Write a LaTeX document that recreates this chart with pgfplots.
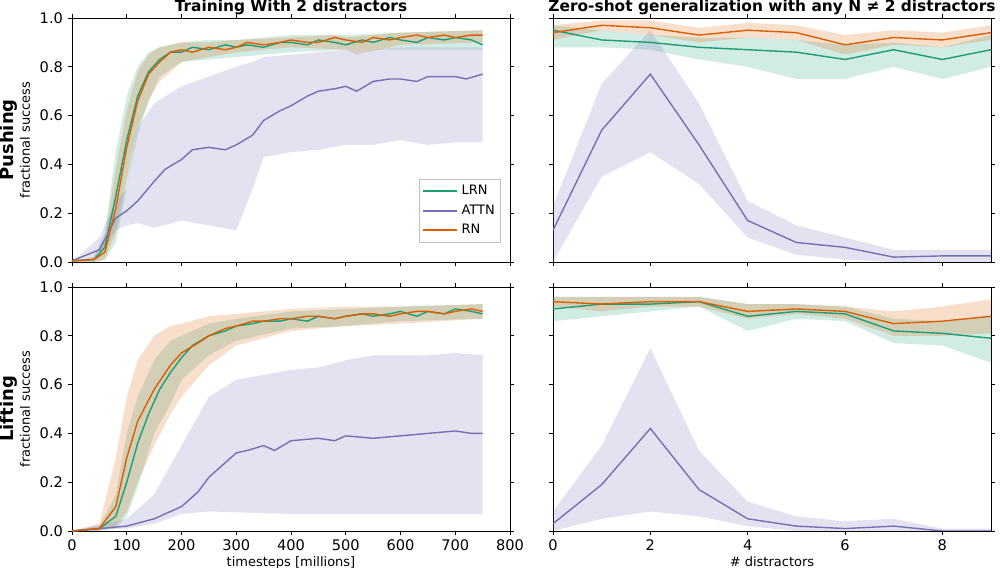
\documentclass[border=0pt]{standalone}
\usepackage{pgfplots}
\pgfplotsset{compat=1.18}
\usepgfplotslibrary{groupplots}
\usepackage{fontspec}
\setmainfont{DejaVu Sans}
\definecolor{cg}{HTML}{1B9E77}
\definecolor{cp}{HTML}{7570B3}
\definecolor{co}{HTML}{D95F02}
\begin{document}
\fontsize{7}{8.4}\selectfont
\begin{tikzpicture}
\useasboundingbox (-36pt,-152.5pt) rectangle (464pt,131pt);
\begin{groupplot}[group style={group size=2 by 2, horizontal sep=21.5pt, vertical sep=12.5pt},
 width=219pt, height=122pt, scale only axis, ymin=0, ymax=1,
 ytick={0,0.2,0.4,0.6,0.8,1.0}, yticklabel style={/pgf/number format/fixed,/pgf/number format/precision=1,/pgf/number format/fixed zerofill},
 /pgf/number format/assume math mode=true,
 tick align=outside, tick style={black,thin}, major tick length=2pt,
 ticklabel style={font=\fontsize{7.3}{8}\selectfont},
 every axis plot/.append style={line width=0.7pt},
 label style={font=\fontsize{6.5}{8}\selectfont}, title style={font=\fontsize{7.7}{9}\selectfont\bfseries, yshift=-7pt}]
% ---- top left
\nextgroupplot[xmin=0,xmax=800, xticklabels={}, title={Training With 2 distractors},
 ylabel={\parbox{60pt}{\centering{\fontsize{9}{10}\selectfont\bfseries Pushing}\\fractional success}},
 legend style={at={(0.98,0.08)},anchor=south east,font=\fontsize{6.5}{8}\selectfont,cells={anchor=west},inner sep=1pt,draw=black!25}, legend cell align=left]
\addplot[fill=cg,fill opacity=0.2,draw=none,forget plot] coordinates {(0,0)(40,0.02)(60,0.12)(80,0.45)(100,0.68)(120,0.80)(140,0.86)(160,0.88)(200,0.90)(250,0.91)(300,0.91)(400,0.93)(500,0.93)(600,0.94)(750,0.95)(750,0.87)(600,0.87)(500,0.87)(400,0.86)(300,0.84)(250,0.83)(200,0.82)(160,0.76)(140,0.66)(120,0.52)(100,0.30)(80,0.08)(60,0.01)(40,0)} -- cycle;
\addplot[fill=co,fill opacity=0.2,draw=none,forget plot] coordinates {(0,0)(40,0.02)(60,0.10)(80,0.38)(100,0.62)(120,0.78)(140,0.85)(160,0.88)(200,0.90)(250,0.90)(300,0.91)(400,0.92)(480,0.93)(500,0.92)(600,0.94)(750,0.95)(750,0.90)(600,0.89)(520,0.85)(500,0.87)(400,0.88)(300,0.86)(250,0.84)(200,0.82)(160,0.74)(140,0.66)(120,0.55)(100,0.34)(80,0.12)(60,0.01)(40,0)} -- cycle;
\addplot[fill=cp,fill opacity=0.2,draw=none,forget plot] coordinates {(0,0)(50,0.10)(80,0.25)(100,0.30)(120,0.55)(150,0.65)(200,0.72)(250,0.76)(300,0.80)(330,0.82)(350,0.84)(400,0.85)(450,0.86)(500,0.87)(550,0.87)(600,0.88)(650,0.88)(700,0.88)(750,0.88)(750,0.49)(700,0.49)(650,0.48)(600,0.50)(550,0.48)(500,0.48)(450,0.46)(400,0.45)(350,0.43)(330,0.30)(300,0.13)(250,0.15)(200,0.17)(150,0.14)(120,0.16)(100,0.15)(80,0.13)(50,0.02)} -- cycle;
\addplot[cg,forget plot] coordinates {(0,0.005)(40,0.01)(60,0.06)(80,0.27)(100,0.50)(120,0.68)(140,0.78)(160,0.83)(180,0.86)(200,0.86)(220,0.88)(250,0.87)(280,0.89)(300,0.88)(320,0.89)(350,0.88)(380,0.90)(400,0.90)(430,0.89)(450,0.91)(480,0.90)(500,0.89)(530,0.91)(550,0.90)(580,0.92)(600,0.91)(630,0.90)(650,0.92)(680,0.91)(700,0.92)(730,0.91)(750,0.89)};
\addplot[cp,forget plot] coordinates {(0,0.005)(50,0.05)(80,0.18)(100,0.21)(120,0.25)(150,0.33)(170,0.38)(200,0.42)(220,0.46)(250,0.47)(280,0.46)(300,0.48)(330,0.52)(350,0.58)(380,0.62)(400,0.64)(430,0.68)(450,0.70)(480,0.71)(500,0.72)(520,0.70)(550,0.74)(580,0.75)(600,0.75)(630,0.74)(650,0.76)(700,0.76)(720,0.75)(750,0.77)};
\addplot[co,forget plot] coordinates {(0,0.005)(40,0.01)(60,0.04)(80,0.22)(100,0.47)(120,0.66)(140,0.77)(160,0.82)(180,0.86)(200,0.87)(220,0.86)(250,0.88)(280,0.87)(300,0.88)(320,0.90)(350,0.89)(380,0.90)(400,0.91)(430,0.90)(450,0.90)(480,0.92)(500,0.91)(530,0.90)(550,0.92)(580,0.91)(600,0.92)(630,0.93)(650,0.92)(680,0.93)(700,0.92)(730,0.93)(750,0.93)};
\addlegendimage{line legend,draw=cg,line width=0.9pt}\addlegendentry{LRN}
\addlegendimage{line legend,draw=cp,line width=0.9pt}\addlegendentry{ATTN}
\addlegendimage{line legend,draw=co,line width=0.9pt}\addlegendentry{RN}
% ---- top right
\nextgroupplot[xmin=0,xmax=9, xtick={0,2,4,6,8}, xticklabels={}, yticklabels={}, title={Zero-shot generalization with any N ≠ 2 distractors}]
\addplot[fill=cg,fill opacity=0.2,draw=none] coordinates {(0,0.97)(1,0.95)(2,0.93)(3,0.92)(4,0.92)(5,0.91)(6,0.89)(7,0.90)(8,0.88)(9,0.93)(9,0.80)(8,0.75)(7,0.80)(6,0.75)(5,0.75)(4,0.80)(3,0.83)(2,0.87)(1,0.88)(0,0.88)} -- cycle;
\addplot[fill=co,fill opacity=0.2,draw=none] coordinates {(0,0.97)(1,0.99)(2,0.99)(3,0.96)(4,0.98)(5,0.97)(6,0.93)(7,0.95)(8,0.94)(9,0.97)(9,0.91)(8,0.88)(7,0.89)(6,0.85)(5,0.91)(4,0.92)(3,0.90)(2,0.93)(1,0.95)(0,0.91)} -- cycle;
\addplot[fill=cp,fill opacity=0.2,draw=none] coordinates {(0,0.23)(1,0.73)(2,0.95)(3,0.65)(4,0.25)(5,0.15)(6,0.10)(7,0.05)(8,0.05)(9,0.05)(9,0)(8,0)(7,0)(6,0.01)(5,0.03)(4,0.10)(3,0.32)(2,0.45)(1,0.35)(0,0)} -- cycle;
\addplot[cg] coordinates {(0,0.95)(1,0.91)(2,0.90)(3,0.88)(4,0.87)(5,0.86)(6,0.83)(7,0.87)(8,0.83)(9,0.87)};
\addplot[co] coordinates {(0,0.94)(1,0.97)(2,0.96)(3,0.93)(4,0.95)(5,0.94)(6,0.89)(7,0.92)(8,0.91)(9,0.94)};
\addplot[cp] coordinates {(0,0.13)(1,0.54)(2,0.77)(3,0.48)(4,0.17)(5,0.08)(6,0.06)(7,0.02)(8,0.025)(9,0.025)};
% ---- bottom left
\nextgroupplot[xmin=0,xmax=800, xtick={0,100,...,800}, xlabel={timesteps [millions]}, xlabel style={yshift=2pt},
 ylabel={\parbox{60pt}{\centering{\fontsize{9}{10}\selectfont\bfseries Lifting}\\fractional success}}]
\addplot[fill=cg,fill opacity=0.2,draw=none] coordinates {(0,0)(50,0.02)(80,0.15)(100,0.40)(120,0.55)(150,0.70)(180,0.78)(200,0.80)(250,0.85)(300,0.87)(400,0.90)(500,0.91)(600,0.92)(750,0.93)(750,0.87)(600,0.86)(500,0.84)(400,0.83)(300,0.78)(250,0.72)(200,0.62)(180,0.52)(150,0.40)(120,0.18)(100,0.06)(80,0.01)(50,0)} -- cycle;
\addplot[fill=co,fill opacity=0.2,draw=none] coordinates {(0,0)(50,0.03)(80,0.30)(100,0.55)(120,0.70)(150,0.80)(180,0.84)(200,0.85)(250,0.88)(300,0.89)(400,0.91)(500,0.92)(600,0.92)(750,0.93)(750,0.87)(600,0.85)(500,0.84)(400,0.82)(300,0.76)(250,0.68)(200,0.55)(180,0.48)(150,0.35)(120,0.20)(100,0.08)(80,0.02)(50,0)} -- cycle;
\addplot[fill=cp,fill opacity=0.2,draw=none] coordinates {(0,0)(100,0.05)(150,0.15)(200,0.35)(250,0.55)(300,0.62)(350,0.64)(400,0.66)(450,0.67)(500,0.70)(550,0.72)(600,0.72)(650,0.72)(700,0.73)(750,0.72)(750,0.07)(600,0.07)(400,0.07)(250,0.08)(200,0.07)(150,0.03)(100,0.01)(0,0)} -- cycle;
\addplot[cg] coordinates {(0,0)(50,0.01)(80,0.06)(100,0.20)(120,0.36)(140,0.48)(160,0.58)(180,0.65)(200,0.71)(220,0.76)(250,0.80)(280,0.82)(300,0.84)(330,0.85)(350,0.86)(380,0.86)(400,0.87)(430,0.86)(450,0.88)(480,0.87)(500,0.88)(530,0.89)(550,0.88)(580,0.89)(600,0.90)(630,0.88)(650,0.90)(680,0.89)(700,0.91)(730,0.90)(750,0.89)};
\addplot[cp] coordinates {(0,0)(100,0.02)(150,0.05)(200,0.10)(230,0.16)(250,0.22)(280,0.28)(300,0.32)(320,0.33)(350,0.35)(370,0.33)(400,0.37)(450,0.38)(480,0.37)(500,0.39)(550,0.38)(600,0.39)(650,0.40)(700,0.41)(730,0.40)(750,0.40)};
\addplot[co] coordinates {(0,0)(50,0.01)(80,0.10)(100,0.30)(120,0.45)(150,0.58)(180,0.68)(200,0.73)(230,0.77)(250,0.80)(280,0.83)(300,0.84)(330,0.86)(350,0.86)(380,0.87)(400,0.87)(430,0.88)(450,0.88)(480,0.87)(500,0.88)(530,0.89)(550,0.89)(580,0.88)(600,0.89)(630,0.90)(650,0.90)(680,0.89)(700,0.90)(730,0.91)(750,0.90)};
% ---- bottom right
\nextgroupplot[xmin=0,xmax=9, xtick={0,2,4,6,8}, yticklabels={}, xlabel={\# distractors}, xlabel style={yshift=2pt}]
\addplot[fill=cg,fill opacity=0.2,draw=none] coordinates {(0,0.96)(1,0.96)(2,0.96)(3,0.96)(4,0.93)(5,0.93)(6,0.92)(7,0.87)(8,0.86)(9,0.88)(9,0.69)(8,0.76)(7,0.77)(6,0.86)(5,0.87)(4,0.82)(3,0.92)(2,0.90)(1,0.88)(0,0.86)} -- cycle;
\addplot[fill=co,fill opacity=0.2,draw=none] coordinates {(0,0.96)(1,0.96)(2,0.96)(3,0.96)(4,0.93)(5,0.93)(6,0.92)(7,0.90)(8,0.92)(9,0.95)(9,0.81)(8,0.80)(7,0.80)(6,0.87)(5,0.89)(4,0.87)(3,0.92)(2,0.92)(1,0.90)(0,0.92)} -- cycle;
\addplot[fill=cp,fill opacity=0.2,draw=none] coordinates {(0,0.08)(1,0.35)(2,0.75)(3,0.33)(4,0.12)(5,0.06)(6,0.04)(7,0.05)(8,0.01)(9,0.01)(9,0)(8,0)(7,0)(6,0)(5,0)(4,0.02)(3,0.06)(2,0.08)(1,0.05)(0,0)} -- cycle;
\addplot[cg] coordinates {(0,0.91)(1,0.93)(2,0.93)(3,0.94)(4,0.88)(5,0.90)(6,0.89)(7,0.82)(8,0.81)(9,0.79)};
\addplot[co] coordinates {(0,0.94)(1,0.93)(2,0.94)(3,0.94)(4,0.90)(5,0.91)(6,0.90)(7,0.85)(8,0.86)(9,0.88)};
\addplot[cp] coordinates {(0,0.03)(1,0.19)(2,0.42)(3,0.17)(4,0.05)(5,0.02)(6,0.01)(7,0.02)(8,0.0)(9,0.0)};
\end{groupplot}
\end{tikzpicture}
\end{document}
